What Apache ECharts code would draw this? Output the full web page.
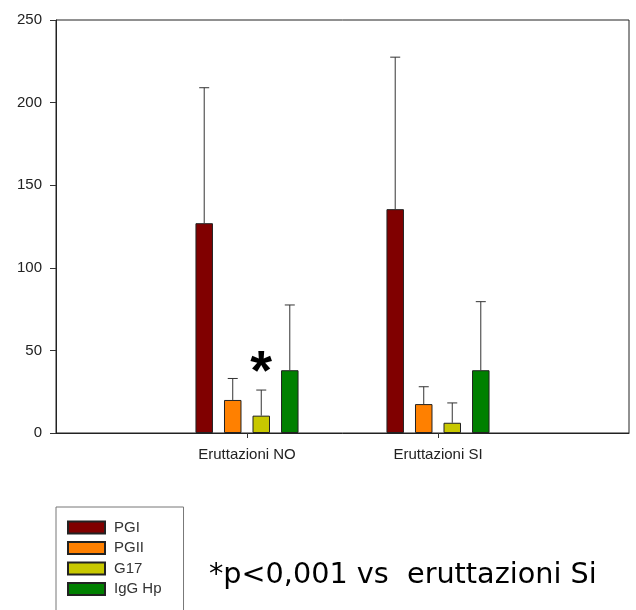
<!DOCTYPE html>
<html>
<head>
<meta charset="utf-8">
<script src="https://cdn.jsdelivr.net/npm/echarts@6/dist/echarts.min.js"></script>
<style>
  html, body { margin: 0; padding: 0; background: #fff; }
  #chart { width: 636px; height: 610px; }
</style>
</head>
<body>
<div id="chart"></div>
<script>
// Category slots: the two groups sit at 1/3 and 2/3 of the plot width
const categories = ['', 'Eruttazioni NO', 'Eruttazioni SI', ''];
const seriesNames = ['PGI', 'PGII', 'G17', 'IgG Hp'];

// Means (Eruttazioni NO, Eruttazioni SI)
const pgiMean  = [127, 135.5];
const pgiiMean = [20, 17.5];
const g17Mean  = [10.5, 6.2];
const iggMean  = [38, 38];

// Upper error (SD) added on top of the mean
const pgiErr  = [82, 92];
const pgiiErr = [13, 10.5];
const g17Err  = [15.5, 12];
const iggErr  = [39.5, 41.5];

// Significance mark above G17 bars
const g17Marks = ['*', ''];

const yTicks = [0, 50, 100, 150, 200, 250];
const noteText = '*p<0,001 vs  eruttazioni Si';

const colors = ['#800000', '#ff8000', '#c8c800', '#008000'];
const means = [pgiMean, pgiiMean, g17Mean, iggMean];
const errs = [pgiErr, pgiiErr, g17Err, iggErr];
const marks = [['', ''], ['', ''], g17Marks, ['', '']];

const BAR_W = 17.5;
const BAR_GAP = '63%';

function padded(arr) {
  return ['-', arr[0], arr[1], '-'];
}

const chart = echarts.init(document.getElementById('chart'), null, { renderer: 'canvas' });

const series = [];
seriesNames.forEach(function (name, i) {
  series.push({
    name: name,
    type: 'bar',
    data: padded(means[i]),
    barWidth: BAR_W,
    barGap: BAR_GAP,
    itemStyle: { color: colors[i], borderColor: '#222', borderWidth: 1 },
    z: 2
  });
});

// Error bars (upward only, with a cap) drawn over each bar
seriesNames.forEach(function (name, i) {
  const data = [
    [1, means[i][0], errs[i][0], marks[i][0]],
    [2, means[i][1], errs[i][1], marks[i][1]]
  ];
  series.push({
    type: 'custom',
    name: name + ' err',
    z: 5,
    silent: true,
    legendHoverLink: false,
    encode: { x: 0, y: 1 },
    data: data,
    renderItem: function (params, api) {
      const layout = api.barLayout({ barWidth: BAR_W, barGap: BAR_GAP, count: 4 });
      const off = layout[i].offsetCenter;
      const base = api.coord([api.value(0), api.value(1)]);
      const top = api.coord([api.value(0), api.value(1) + api.value(2)]);
      const x = base[0] + off;
      const cap = 5;
      const style = { stroke: '#333', lineWidth: 1 };
      const children = [
        { type: 'line', shape: { x1: x, y1: base[1], x2: x, y2: top[1] }, style: style },
        { type: 'line', shape: { x1: x - cap, y1: top[1], x2: x + cap, y2: top[1] }, style: style }
      ];
      const mark = data[params.dataIndex][3];
      if (mark) {
        children.push({
          type: 'text',
          style: {
            text: mark, x: x, y: top[1] + 12,
            fill: '#000', font: 'bold 56px "Liberation Sans", Arial, sans-serif',
            align: 'center', verticalAlign: 'bottom'
          }
        });
      }
      return { type: 'group', children: children };
    }
  });
});

chart.setOption({
  animation: false,
  backgroundColor: '#fff',
  grid: {
    left: 56, right: 7, top: 20, bottom: 177,
    show: true, borderColor: '#222', borderWidth: 1, backgroundColor: 'transparent'
  },
  legend: {
    data: seriesNames,
    orient: 'vertical',
    left: 56, top: 507, height: 200,
    padding: [13, 22, 30, 11],
    itemWidth: 37, itemHeight: 12, itemGap: 5.5,
    icon: 'rect',
    borderColor: '#777', borderWidth: 1,
    textStyle: { fontFamily: '"Liberation Sans", Arial, sans-serif', fontSize: 15, color: '#333', padding: [0, 0, 0, 4] }
  },
  xAxis: {
    type: 'category',
    data: categories,
    boundaryGap: false,
    axisLine: { lineStyle: { color: '#222', width: 1 } },
    axisTick: {
      show: true, length: 5, inside: false,
      interval: function (idx, val) { return val !== ''; },
      lineStyle: { color: '#333' }
    },
    axisLabel: {
      margin: 14, fontSize: 15, color: '#222',
      fontFamily: '"Liberation Sans", Arial, sans-serif',
      interval: 0
    },
    splitLine: { show: false }
  },
  yAxis: {
    type: 'value',
    min: yTicks[0], max: yTicks[yTicks.length - 1], interval: yTicks[1] - yTicks[0],
    axisLine: { show: true, lineStyle: { color: '#222', width: 1 } },
    axisTick: { show: true, length: 6, lineStyle: { color: '#333' } },
    axisLabel: {
      margin: 14, fontSize: 15, color: '#222',
      fontFamily: '"Liberation Sans", Arial, sans-serif'
    },
    splitLine: { show: false }
  },
  graphic: [{
    type: 'text',
    left: 209, top: 561,
    style: {
      text: noteText,
      font: '28.7px "DejaVu Sans", sans-serif',
      fill: '#000'
    }
  }],
  series: series
});
</script>
</body>
</html>
